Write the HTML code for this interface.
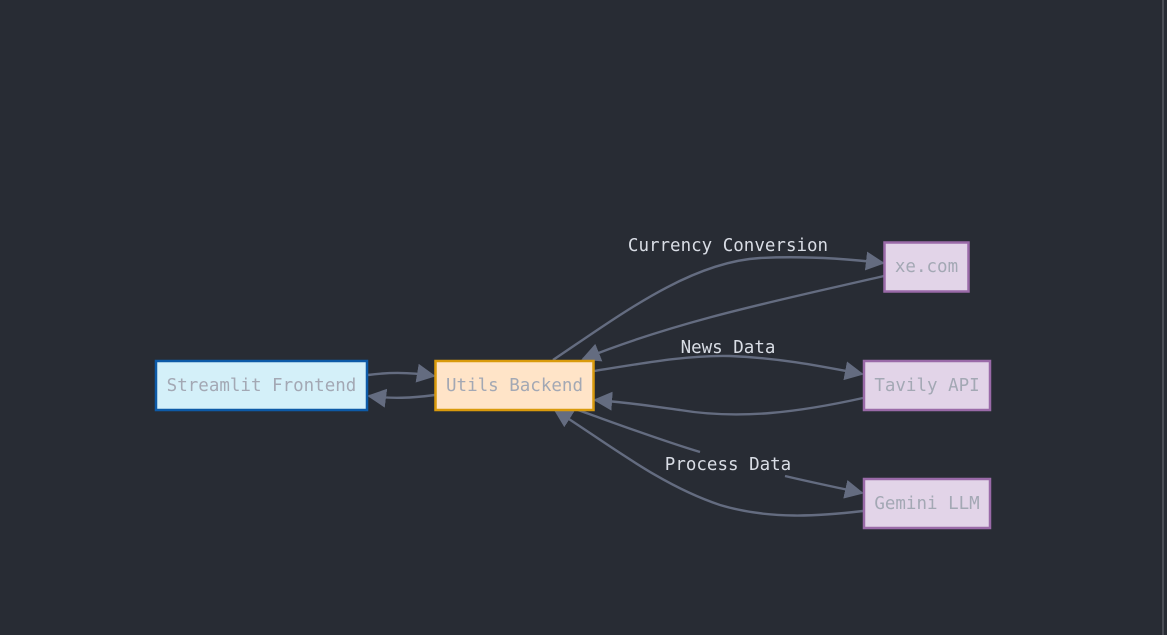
<!DOCTYPE html>
<html><head><meta charset="utf-8"><style>
html,body{margin:0;padding:0;background:#282c34;width:1167px;height:635px;overflow:hidden}
svg{display:block}
.n{font-family:"DejaVu Sans Mono","Liberation Mono",monospace;font-size:17.5px;fill:#a3a8b4}
.l{font-family:"DejaVu Sans Mono","Liberation Mono",monospace;font-size:17.5px;fill:#d9dde5}
.e{fill:none;stroke:#646c80;stroke-width:2.4}
</style></head><body>
<svg width="1167" height="635" viewBox="0 0 1167 635">
<defs><marker id="b" viewBox="0 0 10 10" refX="9" refY="5" markerWidth="19" markerHeight="19" markerUnits="userSpaceOnUse" orient="auto"><path d="M0,0L10,5L0,10z" fill="#646c80"/></marker></defs>
<rect x="0" y="0" width="1167" height="635" fill="#282c34"/>
<rect x="1162" y="0" width="2" height="635" fill="#4b4e56"/>
<path class="e" marker-end="url(#b)" d="M368,375 C390,372 410,372 434,376"/>
<path class="e" marker-end="url(#b)" d="M435,395 C412,398 392,399 369,396"/>
<path class="e" marker-end="url(#b)" d="M553,360 C620,315 690,262 760,258 C800,256 840,258 883,263"/>
<path class="e" marker-end="url(#b)" d="M884,276 C780,300 680,320 583,359"/>
<path class="e" marker-end="url(#b)" d="M594,371 C650,362 690,355 730,356 C780,358 820,366 862,374"/>
<path class="e" marker-end="url(#b)" d="M863,398 C800,412 740,420 680,410 C650,406 625,402 595,400"/>
<path class="e" d="M578,410 C620,425 660,440 700,452"/>
<path class="e" marker-end="url(#b)" d="M785,476 C810,482 835,487 862,493"/>
<path class="e" marker-end="url(#b)" d="M863,511 C820,516 770,520 720,505 C660,485 610,445 555,410"/>
<rect x="156" y="361" width="211" height="49" fill="#d4f0f9" stroke="#0d5aa7" stroke-width="2.5"/>
<text class="n" x="261.5" y="391" text-anchor="middle">Streamlit Frontend</text>
<rect x="435.5" y="361" width="158" height="49" fill="#ffe4c8" stroke="#d99a0c" stroke-width="2.5"/>
<text class="n" x="514.5" y="391" text-anchor="middle">Utils Backend</text>
<rect x="884.5" y="242.5" width="84" height="49" fill="#e2d4e8" stroke="#9a6aa8" stroke-width="2.5"/>
<text class="n" x="926.5" y="272" text-anchor="middle">xe.com</text>
<rect x="864" y="361" width="126" height="49" fill="#e2d4e8" stroke="#9a6aa8" stroke-width="2.5"/>
<text class="n" x="927" y="391" text-anchor="middle">Tavily API</text>
<rect x="864" y="479" width="126" height="49" fill="#e2d4e8" stroke="#9a6aa8" stroke-width="2.5"/>
<text class="n" x="927" y="509" text-anchor="middle">Gemini LLM</text>
<text class="l" x="728" y="251" text-anchor="middle">Currency Conversion</text>
<text class="l" x="728" y="353" text-anchor="middle">News Data</text>
<text class="l" x="728" y="470" text-anchor="middle">Process Data</text>
</svg>
</body></html>
